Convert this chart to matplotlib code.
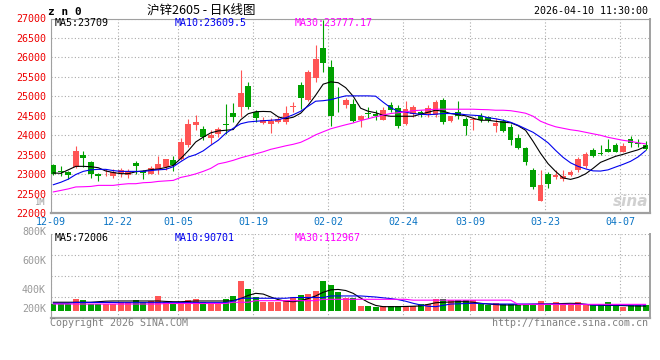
import matplotlib
matplotlib.use('Agg')
import matplotlib.pyplot as plt
import matplotlib.transforms as mtransforms
import numpy as np

plt.rcParams['font.family'] = ['DejaVu Sans Mono']

# --- data (zn0, 2025-12-09 .. 2026-04-10) ---
date_labels = ['12-09', '12-22', '01-05', '01-19', '02-02', '02-24', '03-09', '03-23', '04-07']
date_index = [0, 9, 17, 27, 37, 47, 56, 66, 76]

opens = [23225, 23080, 23045, 23181, 23483, 23310, 22993, 22990, 22941, 23037,
         22985, 23293, 23070, 23011, 23096, 23181, 23354, 23397, 23740, 24274,
         24170, 23928, 24041, 24290, 24565, 24727, 25260, 24590, 24325, 24300,
         24340, 24340, 24720, 25286, 24900, 25459, 26230, 25758, 24990, 24771,
         24797, 24384, 24560, 24540, 24384, 24771, 24711, 24289, 24557, 24600,
         24557, 24513, 24900, 24370, 24590, 24410, 24384, 24496, 24470, 24237,
         24370, 24212, 23928, 23670, 23096, 22297, 22993, 22923, 22881, 22967,
         23096, 23199, 23611, 23540, 23637, 23740, 23568, 23912, 23800, 23758]
highs = [23269, 23200, 23070, 23714, 23586, 23346, 23037, 23120, 23120, 23155,
         23120, 23328, 23096, 23200, 23456, 23400, 23470, 23928, 24410, 24513,
         24230, 24127, 24200, 24796, 24840, 25673, 25371, 24642, 24480, 24440,
         24480, 24753, 24860, 25371, 25673, 26320, 26950, 25930, 25243, 24960,
         24943, 24520, 24730, 24640, 24730, 24860, 24771, 24874, 24771, 24650,
         24771, 24900, 24959, 24500, 24874, 24470, 24470, 24560, 24500, 24443,
         24427, 24280, 24041, 23700, 23155, 23096, 23052, 23096, 23096, 23096,
         23440, 23570, 23670, 23740, 23900, 23790, 23790, 23970, 23912, 23840]
lows = [22967, 22942, 22882, 23160, 23181, 22898, 22820, 22940, 22900, 22923,
        22900, 23011, 22881, 22990, 22993, 23100, 23080, 23354, 23700, 24127,
        23869, 23784, 23950, 24041, 24340, 24470, 24685, 24340, 24300, 24068,
        24320, 24300, 24600, 24685, 24874, 25371, 25629, 24237, 24600, 24700,
        24340, 24212, 24430, 24380, 24384, 24600, 24180, 24260, 24470, 24470,
        24470, 24470, 24300, 24340, 24427, 23998, 24127, 24340, 24350, 24083,
        24083, 23740, 23655, 23225, 22624, 22297, 22640, 22864, 22820, 22950,
        23052, 23160, 23440, 23483, 23580, 23560, 23560, 23700, 23700, 23630]
closes = [23011, 23050, 22967, 23593, 23413, 22993, 22950, 23015, 23062, 23096,
          23070, 23199, 23027, 23155, 23250, 23380, 23225, 23826, 24282, 24340,
          23954, 23998, 24170, 24270, 24470, 25096, 24727, 24454, 24402, 24358,
          24410, 24582, 24735, 24944, 25630, 25956, 25845, 24495, 24970, 24900,
          24370, 24487, 24545, 24490, 24642, 24642, 24237, 24685, 24730, 24513,
          24711, 24856, 24340, 24487, 24496, 24237, 24427, 24402, 24384, 24314,
          24100, 23869, 23670, 23310, 22666, 22727, 22753, 22985, 22950, 23052,
          23397, 23526, 23465, 23526, 23568, 23568, 23723, 23809, 23783, 23655]

ma5 = [23030, 23020, 23110, 23199, 23199, 23190, 23164, 23080, 23040, 23011,
       23011, 23060, 23080, 23114, 23130, 23170, 23225, 23400, 23600, 23826,
       23950, 24060, 24110, 24127, 24145, 24397, 24552, 24604, 24611, 24604,
       24470, 24423, 24462, 24565, 24771, 25029, 25312, 25371, 25350, 25222,
       25003, 24694, 24616, 24578, 24513, 24487, 24487, 24487, 24487, 24540,
       24590, 24642, 24616, 24557, 24526, 24500, 24436, 24384, 24384, 24358,
       24333, 24320, 24243, 24127, 23843, 23534, 23268, 23070, 22903, 22864,
       22915, 23006, 23147, 23302, 23380, 23457, 23508, 23568, 23624, 23709]
ma10 = [22727, 22790, 22870, 22990, 23070, 23110, 23122, 23122, 23090, 23070,
        23070, 23070, 23070, 23090, 23110, 23122, 23190, 23320, 23440, 23500,
        23598, 23740, 23869, 24050, 24178, 24294, 24340, 24358, 24372, 24384,
        24397, 24449, 24526, 24616, 24745, 24874, 24887, 24913, 24964, 25011,
        25011, 25011, 25011, 25003, 24849, 24707, 24616, 24590, 24557, 24540,
        24526, 24540, 24557, 24557, 24552, 24526, 24513, 24500, 24449, 24423,
        24384, 24333, 24256, 24165, 24075, 23946, 23805, 23611, 23431, 23290,
        23199, 23135, 23083, 23078, 23109, 23181, 23250, 23328, 23440, 23600]
ma30 = [22542, 22580, 22620, 22670, 22675, 22683, 22710, 22710, 22710, 22735,
        22753, 22753, 22779, 22787, 22812, 22825, 22838, 22915, 22954, 23006,
        23070, 23147, 23262, 23302, 23354, 23418, 23470, 23521, 23573, 23637,
        23681, 23727, 23766, 23817, 23907, 24010, 24088, 24165, 24217, 24268,
        24314, 24375, 24423, 24474, 24518, 24557, 24578, 24600, 24630, 24642,
        24655, 24668, 24668, 24668, 24668, 24668, 24668, 24660, 24655, 24642,
        24642, 24630, 24600, 24565, 24488, 24359, 24281, 24217, 24178, 24140,
        24114, 24075, 24036, 23998, 23946, 23907, 23869, 23843, 23805, 23777]

# volume, in the K units of the panel's own labels
volume = [130, 130, 130, 181, 171, 130, 130, 130, 130, 152,
          152, 171, 152, 162, 210, 152, 130, 152, 171, 181,
          152, 130, 130, 181, 210, 352, 276, 197, 155, 155,
          155, 171, 200, 219, 229, 257, 352, 314, 250, 188,
          188, 114, 114, 108, 114, 114, 114, 114, 114, 133,
          133, 181, 181, 171, 171, 171, 171, 140, 124, 140,
          133, 133, 124, 124, 133, 162, 133, 155, 133, 133,
          155, 124, 124, 133, 155, 124, 108, 124, 124, 124]
vol_ma5 = [150, 150, 150, 150, 150, 150, 155, 160, 162, 162,
           162, 162, 162, 162, 162, 158, 155, 155, 158, 162,
           162, 162, 162, 162, 165, 185, 215, 235, 228, 200,
           175, 160, 155, 165, 185, 210, 245, 268, 272, 262,
           235, 190, 150, 120, 108, 108, 108, 110, 112, 115,
           130, 145, 150, 152, 155, 155, 150, 140, 133, 128,
           124, 124, 126, 128, 130, 132, 133, 135, 138, 140,
           138, 130, 124, 122, 120, 120, 118, 116, 114, 114]
vol_ma10 = [140, 140, 140, 148, 148, 148, 148, 148, 148, 146,
            146, 146, 146, 146, 146, 146, 146, 146, 146, 146,
            146, 146, 146, 146, 160, 188, 188, 188, 188, 188,
            188, 188, 195, 195, 195, 195, 195, 210, 210, 210,
            210, 210, 205, 200, 192, 185, 175, 160, 140, 124,
            112, 108, 120, 133, 135, 138, 140, 138, 135, 133,
            133, 133, 133, 133, 133, 133, 133, 133, 130, 130,
            130, 130, 124, 124, 124, 124, 124, 124, 124, 124]
vol_ma30 = [133, 133, 133, 133, 133, 133, 133, 133, 133, 133,
            133, 133, 133, 133, 133, 138, 138, 138, 138, 138,
            138, 138, 138, 138, 150, 150, 150, 165, 165, 165,
            165, 165, 165, 165, 165, 165, 178, 178, 178, 178,
            178, 178, 178, 178, 178, 178, 178, 178, 170, 170,
            170, 170, 170, 170, 170, 170, 170, 170, 170, 170,
            170, 170, 130, 130, 130, 130, 130, 130, 130, 130,
            130, 130, 130, 130, 130, 130, 130, 130, 130, 130]

# --- styling ---
RED = '#ff5555'
GREEN = '#00a000'
GRID = '#aaaaaa'
FRAME = '#a0a0a0'
W, H = 660, 360
VOL_BASE = 65

o = np.array(opens); h = np.array(highs); l = np.array(lows); c = np.array(closes)
x = np.arange(len(c))
cols = np.where(c >= o, RED, GREEN)
gx = np.array(date_index) - 0.35

fig = plt.figure(figsize=(6.6, 3.6), dpi=100)
left = 50.7 / W
width = (650 - 50.7) / W
ax = fig.add_axes([left, 1 - 213 / H, width, (213 - 18.5) / H])
axv = fig.add_axes([left, 1 - 318 / H, width, 84 / H])

# price panel
ax.vlines(x, l, h, colors=cols, lw=0.8, zorder=3)
ax.bar(x, np.maximum(np.abs(c - o), 18), bottom=np.minimum(o, c), width=0.76,
       color=cols, linewidth=0, zorder=4)
ax.plot(x, ma5, color='black', lw=0.8, zorder=5)
ax.plot(x, ma10, color='#0000ee', lw=0.8, zorder=5)
ax.plot(x, ma30, color='#ff00ff', lw=0.8, zorder=5)

ax.set_xlim(-0.35, 79.6)
ax.set_ylim(22000, 27000)
ax.set_yticks(np.arange(22000, 27001, 500))
ax.set_xticks(gx)
ax.set_xticklabels(date_labels, color='#0a74c4', fontsize=7.2)
ax.tick_params(axis='y', colors='#ee0000', labelsize=7.2, length=0, pad=3)
ax.tick_params(axis='x', length=0, pad=3)
ax.grid(True, linestyle=(0, (1, 2)), color=GRID, lw=0.8)
for s in ax.spines.values():
    s.set_color(FRAME)
    s.set_linewidth(0.8)
ax.spines['bottom'].set_linewidth(1.6)
ax.spines['right'].set_linewidth(1.4)
ax.set_axisbelow(True)

trans = mtransforms.blended_transform_factory(ax.transAxes, ax.transData)
ax.text(-0.008, 22265, '1M', transform=trans, ha='right', va='center',
        color='#999999', fontsize=6.3)
ax.text(0.997, 22300, 'sina', transform=trans, ha='right', va='center',
        color='#d0d0d0', fontsize=11, fontweight='bold', style='italic',
        family='DejaVu Sans')

# volume panel
axv.bar(x, np.array(volume) - VOL_BASE, bottom=VOL_BASE, width=0.8, color=cols,
        linewidth=0, zorder=3)
axv.plot(x, vol_ma5, color='black', lw=0.8, zorder=4)
axv.plot(x, vol_ma10, color='#0000ee', lw=0.8, zorder=4)
axv.plot(x, vol_ma30, color='#ff00ff', lw=0.8, zorder=4)
axv.set_xlim(-0.35, 79.6)
axv.set_ylim(0, 800)
axv.set_yticks([200, 400, 600, 800])
axv.set_yticklabels([])
axv.set_xticks(gx)
axv.set_xticklabels([])
axv.tick_params(length=0)
axv.grid(True, linestyle=(0, (1, 2)), color=GRID, lw=0.8)
for s in axv.spines.values():
    s.set_color(FRAME)
    s.set_linewidth(0.8)
axv.spines['top'].set_visible(False)
axv.spines['bottom'].set_linewidth(1.6)
axv.spines['right'].set_linewidth(1.4)
axv.set_axisbelow(True)
for lab, yf in [('800K', 1.02), ('600K', 0.679), ('400K', 0.333), ('200K', 0.104)]:
    axv.text(-0.008, yf, lab, transform=axv.transAxes, ha='right', va='center',
             color='#999999', fontsize=7.2)


def ftext(px, py, s, **kw):
    fig.text(px / W, 1 - py / H, s, va='center', **kw)


ftext(48, 11.7, 'z n 0', fontsize=8, fontweight='bold', color='black')
ftext(201, 10, '沪锌2605 - 日K线图', ha='center', fontsize=9, color='black',
      family=['Noto Sans CJK SC', 'DejaVu Sans'])
ftext(648, 11, '2026-04-10 11:30:00', ha='right', fontsize=7.2, color='black')

ftext(55, 23.3, 'MA5:23709', fontsize=7.2, color='black')
ftext(175, 23.3, 'MA10:23609.5', fontsize=7.2, color='#0000ee')
ftext(295, 23.3, 'MA30:23777.17', fontsize=7.2, color='#ff00ff')

ftext(55, 238.3, 'MA5:72006', fontsize=7.2, color='black')
ftext(175, 238.3, 'MA10:90701', fontsize=7.2, color='#0000ee')
ftext(295, 238.3, 'MA30:112967', fontsize=7.2, color='#ff00ff')

ftext(50, 323.5, 'Copyright 2026 SINA.COM', fontsize=7.2, color='#808080')
ftext(648, 323.5, 'http://finance.sina.com.cn', ha='right', fontsize=7.2, color='#808080')

fig.savefig('out.png', dpi=100)
